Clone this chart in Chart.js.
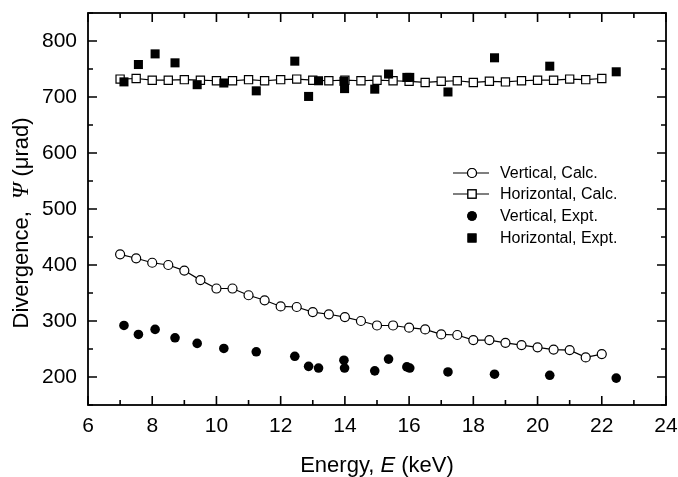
<!DOCTYPE html>
<html>
<head>
<meta charset="utf-8">
<script src="https://cdn.jsdelivr.net/npm/chart.js@4/dist/chart.umd.min.js"></script>
<style>
  html, body { margin:0; padding:0; background:#fff; }
  #wrap { width:678px; height:477px; }
</style>
</head>
<body>
<div id="wrap"><canvas id="c" width="678" height="477"></canvas></div>
<script>
/* divergence vs energy: calculated curves + measured points */
const calcE  = [7,7.5,8,8.5,9,9.5,10,10.5,11,11.5,12,12.5,13,13.5,14,14.5,15,15.5,16,16.5,17,17.5,18,18.5,19,19.5,20,20.5,21,21.5,22];
const vCalc  = [419,412,404,400,390,373,358,358,346,337,326,325,316,312,307,300,292,292,288,285,276,275,266,266,261,257,253,249,248,235,241];
const hCalc  = [732,733,730,730,731,730,729,729,731,729,731,732,730,729,730,729,730,729,728,726,728,729,726,728,727,729,730,730,732,731,733];

const exptE  = [7.12,7.57,8.09,8.71,9.40,10.23,11.24,12.44,12.87,13.18,13.97,13.99,14.93,15.36,15.93,16.02,17.21,18.66,20.38,22.45];
const vExpt  = [292,276,285,270,260,251,245,237,219,216,230,216,211,232,218,216,209,205,203,198];
const hExpt  = [727,758,777,761,722,725,711,764,701,729,728,715,714,741,735,735,709,770,755,745];

const xTicks = [6,8,10,12,14,16,18,20,22,24];
const xMinor = [7,9,11,13,15,17,19,21,23];
const yTicks = [200,300,400,500,600,700,800];
const yMinor = [150,250,350,450,550,650,750,850];

const LEGEND = ['Vertical, Calc.','Horizontal, Calc.','Vertical, Expt.','Horizontal, Expt.'];
const FONT = '"Liberation Sans", Arial, sans-serif';

const pts = (xs, ys) => xs.map((x, i) => ({ x, y: ys[i] }));

// frame + inward ticks on all four sides
const frame = {
  id: 'frame',
  beforeDatasetsDraw(chart) {
    const { ctx, chartArea: a, scales: { x, y } } = chart;
    ctx.save();
    ctx.strokeStyle = '#000';
    ctx.lineWidth = 1.8;
    ctx.strokeRect(a.left, a.top, a.right - a.left, a.bottom - a.top);
    ctx.lineWidth = 1.6;
    ctx.beginPath();
    const tx = (v, len) => { const p = x.getPixelForValue(v);
      ctx.moveTo(p, a.bottom); ctx.lineTo(p, a.bottom - len);
      ctx.moveTo(p, a.top); ctx.lineTo(p, a.top + len); };
    const ty = (v, len) => { const p = y.getPixelForValue(v);
      ctx.moveTo(a.left, p); ctx.lineTo(a.left + len, p);
      ctx.moveTo(a.right, p); ctx.lineTo(a.right - len, p); };
    xTicks.forEach((v) => tx(v, 9)); xMinor.forEach((v) => tx(v, 5));
    yTicks.forEach((v) => ty(v, 9)); yMinor.forEach((v) => ty(v, 5));
    ctx.stroke();
    ctx.restore();
  },
  afterDraw(chart) {
    const { ctx, chartArea: a } = chart;
    ctx.save();
    ctx.fillStyle = '#000';
    ctx.textBaseline = 'middle';

    // x title: "Energy, E (keV)" with italic E
    const xs = [['Energy, ', `22px ${FONT}`], ['E', `italic 22px ${FONT}`], [' (keV)', `22px ${FONT}`]];
    drawRun(ctx, xs, (a.left + a.right) / 2, 466);

    // y title, rotated
    ctx.translate(22, 223);
    ctx.rotate(-Math.PI / 2);
    const ys = [['Divergence,  ', `22px ${FONT}`], ['\u03A8', `italic 23px "Liberation Serif", serif`], [' (\u03BCrad)', `22px ${FONT}`]];
    drawRun(ctx, ys, 0, 0);
    ctx.setTransform(1, 0, 0, 1, 0, 0);

    // legend
    const rows = [173, 194, 216, 238];
    chart.data.datasets.forEach((ds, i) => {
      const cy = rows[i], cx = 472;
      if (ds.showLine) {
        ctx.strokeStyle = '#000'; ctx.lineWidth = 1.2;
        ctx.beginPath(); ctx.moveTo(453, cy); ctx.lineTo(489, cy); ctx.stroke();
      }
      Chart.helpers.drawPoint(ctx, { pointStyle: ds.pointStyle, radius: ds.pointRadius, borderWidth: ds.borderWidth }, cx, cy);
      ctx.fillStyle = ds.pointBackgroundColor; ctx.strokeStyle = '#000';
      ctx.fill(); if (ds.borderWidth) ctx.stroke();
      ctx.fillStyle = '#000';
      ctx.font = `16px ${FONT}`;
      ctx.textAlign = 'left';
      ctx.fillText(LEGEND[i], 500, cy + 1);
    });
    ctx.restore();
  }
};

function drawRun(ctx, parts, cx, cy) {
  let w = 0;
  parts.forEach(([t, f]) => { ctx.font = f; w += ctx.measureText(t).width; });
  let x = cx - w / 2;
  ctx.textAlign = 'left';
  parts.forEach(([t, f]) => { ctx.font = f; ctx.fillText(t, x, cy); x += ctx.measureText(t).width; });
}

const open = (label, data, style, r) => ({ label, data, showLine: true, borderColor: '#000', borderWidth: 1.2,
  pointStyle: style, pointRadius: r, pointBackgroundColor: '#fff', pointBorderColor: '#000', pointBorderWidth: 1.2,
  tension: 0, order: 1 });
const filled = (label, data, style, r) => ({ label, data, showLine: false, borderColor: '#000', borderWidth: 0,
  pointStyle: style, pointRadius: r, pointBackgroundColor: '#000', pointBorderColor: '#000', pointBorderWidth: 0, order: 0 });

new Chart(document.getElementById('c'), {
  type: 'scatter',
  data: { datasets: [
    open(LEGEND[0], pts(calcE, vCalc), 'circle', 4.5),
    open(LEGEND[1], pts(calcE, hCalc), 'rect', 5.8),
    filled(LEGEND[2], pts(exptE, vExpt), 'circle', 4.8),
    filled(LEGEND[3], pts(exptE, hExpt), 'rect', 6.4),
  ] },
  options: {
    responsive: false, animation: false, devicePixelRatio: 1,
    layout: { padding: { top: 13, right: 12, left: 0, bottom: 0 } },
    plugins: { legend: { display: false }, tooltip: { enabled: false } },
    scales: {
      x: { type: 'linear', min: 6, max: 24,
        grid: { display: false, drawTicks: false }, border: { display: false },
        afterBuildTicks: (s) => { s.ticks = xTicks.map((v) => ({ value: v })); },
        afterFit: (s) => { s.height = 72; s.paddingLeft = 0; s.paddingRight = 0; },
        ticks: { autoSkip: false, maxRotation: 0, padding: 9, color: '#000', font: { family: FONT, size: 21 } } },
      y: { type: 'linear', min: 150, max: 850,
        grid: { display: false, drawTicks: false }, border: { display: false },
        afterBuildTicks: (s) => { s.ticks = yTicks.map((v) => ({ value: v })); },
        afterFit: (s) => { s.width = 88; s.paddingTop = 0; s.paddingBottom = 0; },
        ticks: { autoSkip: false, padding: 11, color: '#000', font: { family: FONT, size: 21 } } },
    },
  },
  plugins: [frame],
});
</script>
</body>
</html>
